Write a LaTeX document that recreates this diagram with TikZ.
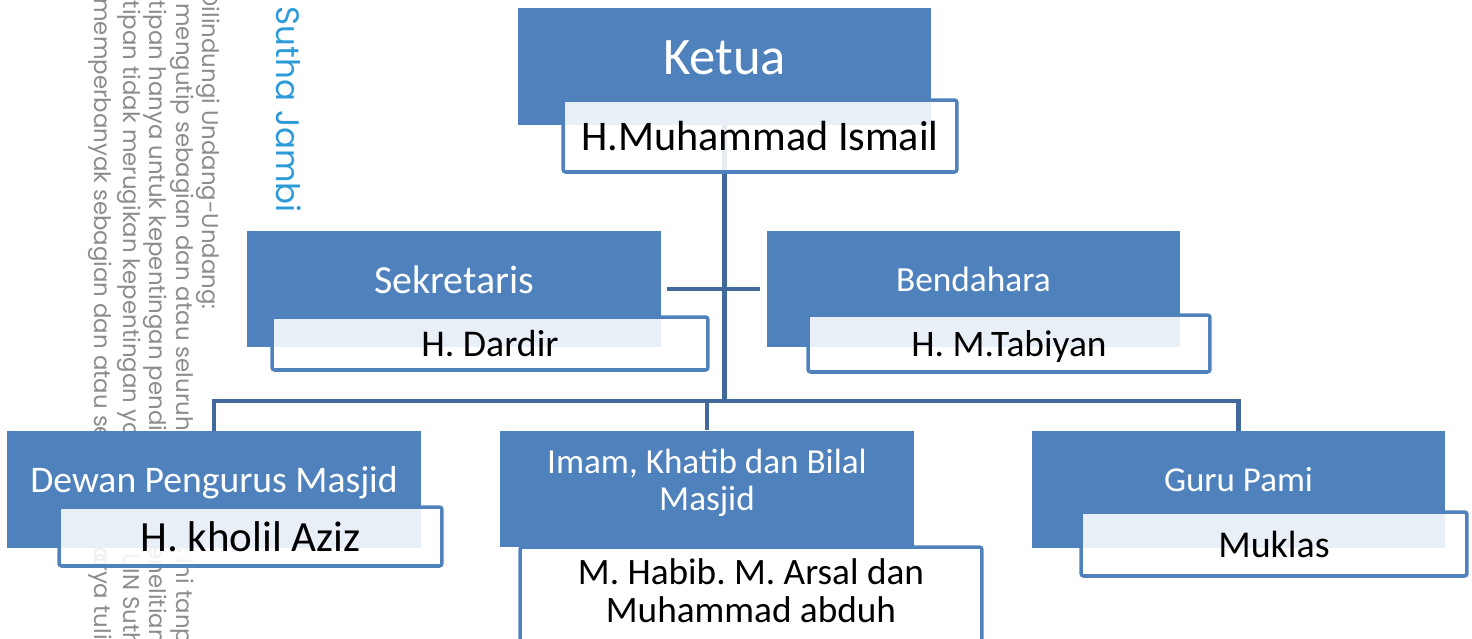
\documentclass[tikz,border=0pt]{standalone}
\usepackage{fontspec}
\setmainfont{Carlito}
\newfontfamily\wmfont{Poppins}
\usetikzlibrary{backgrounds}
\definecolor{roleblue}{HTML}{4F81BD}
\definecolor{linkblue}{HTML}{41699C}
\definecolor{wmgray}{HTML}{8C8C8C}
\definecolor{wmblue}{HTML}{2E9BD9}
\newcommand{\fsz}[2]{\fontsize{#1}{#2}\selectfont}
\frenchspacing

\begin{document}
\begin{tikzpicture}[x=0.02cm, y=-0.02cm,
    rolebox/.style={fill=roleblue, minimum width=8.27cm, minimum height=2.33cm, inner sep=0pt},
    roletitle/.style={text=white, anchor=base, inner sep=0pt, align=center},
    namebox/.style={draw=roleblue, line width=2pt, rounded corners=1.5pt, fill=white, fill opacity=0.88, text opacity=1, inner sep=0pt, align=center, text depth=0pt},
    orgline/.style={draw=linkblue, line width=2.8pt},
    wmline/.style={rotate=-90, inner sep=0pt, text=wmgray, font=\wmfont\fsz{13}{13}}]
    \useasboundingbox (0,0) rectangle (1472,639);
    \clip (0,0) rectangle (1472,639);

    % watermark down the left edge
    \node[wmline, text=wmblue, font=\wmfont\fsz{18.5}{18.5}, anchor=base east] (wm0) at (276,213) {UIN Sutha Jambi};
    \node[wmline, anchor=base east] (wm1) at (202,310) {Hak Cipta Dilindungi Undang-Undang:};
    \node[wmline, anchor=base west] (wm2) at (176,3) {mengutip sebagian dan atau seluruh karya tulis};
    \node[wmline, anchor=base west] (wm3) at (149,-14) {utipan hanya untuk kepentingan pendidikan, pen};
    \node[wmline, anchor=base west] (wm4) at (123,-14) {utipan tidak merugikan kepentingan yang wajar};
    \node[wmline, anchor=base west] (wm5) at (94,-2) {memperbanyak sebagian dan atau seluruh karya};
    \node[wmline, anchor=base west] (wm6) at (176,558) {ini tanpa mencantumkan};
    \node[wmline, anchor=base west] (wm7) at (149,530) {penelitian, penulisan};
    \node[wmline, anchor=base west] (wm8) at (123,553) {UIN Sutha Jambi};
    \node[wmline, anchor=base west] (wm9) at (94,535) {karya tulis ini};

    % role boxes
    \foreach \nm/\cx/\cy in {ketua/724.5/66.5, sekretaris/454/289, bendahara/973.5/289,
                             dewan/214/489.5, imam/707/489, guru/1238.5/489.5}
        \node[rolebox] (\nm) at (\cx,\cy) {};

    \node[roletitle, font=\fsz{30}{36}] (ketuaT) at (724.5,74) {Ketua};
    \node[roletitle, font=\fsz{22.7}{27}] (sekretarisT) at (454,293) {Sekretaris};
    \node[roletitle, font=\fsz{20.1}{24}] (bendaharaT) at (973.5,291) {Bendahara};
    \node[roletitle, font=\fsz{21.4}{25}] (dewanT) at (214,492) {Dewan Pengurus Masjid};
    \node[roletitle, font=\fsz{20}{21}] (imamT) at (707,510) {Imam, Khatib dan Bilal\\Masjid};
    \node[roletitle, font=\fsz{19.9}{24}] (guruT) at (1238.5,491) {Guru Pami};

    % name boxes
    \node[namebox, minimum width=7.88cm, minimum height=1.44cm, font=\fsz{24}{28}] (ketuaN) at (760,136) {H.Muhammad Ismail};
    \node[namebox, minimum width=8.72cm, minimum height=1.06cm, font=\fsz{21.5}{25}] (sekretarisN) at (490,343.5) {H. Dardir};
    \node[namebox, minimum width=8.04cm, minimum height=1.14cm, font=\fsz{21.3}{25}] (bendaharaN) at (1009,343.5) {H. M.Tabiyan};
    \node[namebox, minimum width=7.66cm, minimum height=1.18cm, font=\fsz{24.5}{28}] (dewanN) at (250.5,536.5) {H. kholil Aziz};
    \node[namebox, minimum width=9.24cm, minimum height=2.06cm, font=\fsz{21.2}{22}, text height=27.8pt] (imamN) at (751,598.5) {M. Habib. M. Arsal dan\\Muhammad abduh};
    \node[namebox, minimum width=7.72cm, minimum height=1.28cm, font=\fsz{21.6}{25}] (guruN) at (1274,544) {Muklas};

    % connectors
    \coordinate (bar) at (724.5,401);
    \begin{scope}[on background layer]
        \draw[orgline] (ketua.south) -- (bar);
        \draw[orgline] (dewan.north) |- (bar) -| (guru.north);
        \draw[orgline] (imam.north) -- (imam.north |- bar);
        \draw[orgline, shorten <=0.12cm, shorten >=0.12cm] (sekretaris.east) -- (bendahara.west);
    \end{scope}
\end{tikzpicture}
\end{document}
